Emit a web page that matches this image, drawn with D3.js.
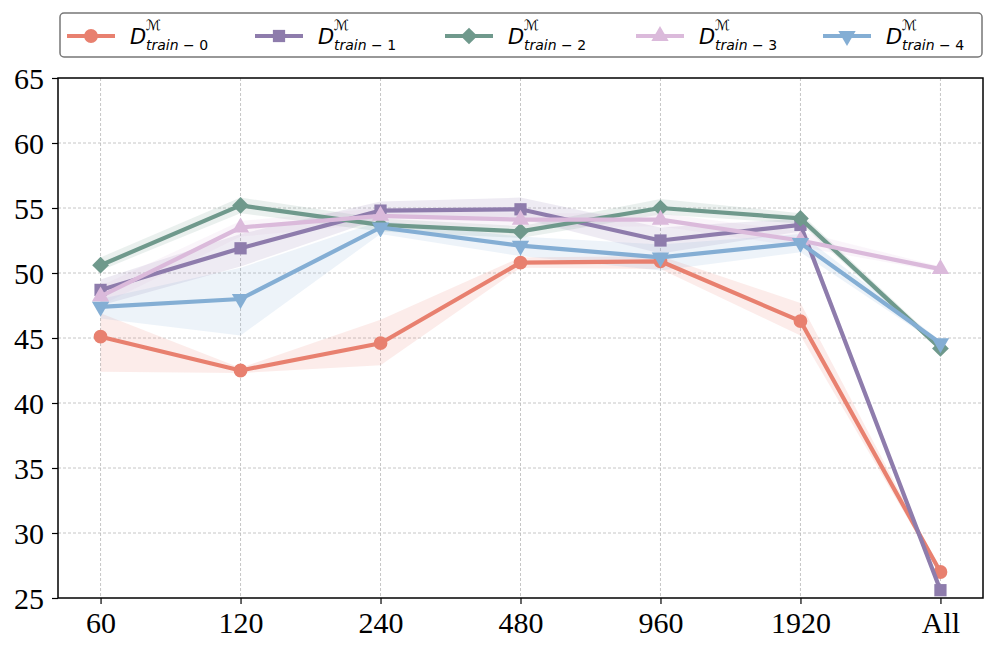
<!DOCTYPE html>
<html>
<head>
<meta charset="utf-8">
<script src="https://cdn.jsdelivr.net/npm/d3@7"></script>
<style>
  body { margin: 0; background: #fff; }
  .tick text { font-family: "Liberation Serif", "Times New Roman", serif; }
</style>
</head>
<body>
<div id="chart"></div>
<script>
// plot size
var svgWidth = 996;
var svgHeight = 651;
var margin = { top: 78, right: 13, bottom: 53, left: 58 };
var chartWidth = svgWidth - margin.left - margin.right;
var chartHeight = svgHeight - margin.top - margin.bottom;

// data
var categories = ['60', '120', '240', '480', '960', '1920', 'All'];
var yTicks = [25, 30, 35, 40, 45, 50, 55, 60, 65];
var seriesNames = ['0', '1', '2', '3', '4'];

var train0 = [45.1, 42.5, 44.6, 50.8, 50.9, 46.3, 27.0];
var train0Lo = [42.4, 42.3, 42.9, 50.4, 50.3, 45.2, 26.8];
var train0Hi = [46.9, 42.7, 46.4, 51.2, 51.3, 47.7, 27.2];

var train1 = [48.7, 51.9, 54.8, 54.9, 52.5, 53.7, 25.6];
var train1Lo = [47.5, 50.5, 54.2, 54.2, 51.5, 53.2, 25.5];
var train1Hi = [49.5, 53.0, 55.5, 55.8, 53.5, 54.2, 25.7];

var train2 = [50.6, 55.2, 53.7, 53.2, 55.0, 54.2, 44.2];
var train2Lo = [50.2, 54.6, 53.2, 52.7, 54.5, 53.8, 44.0];
var train2Hi = [51.2, 55.8, 54.2, 53.6, 55.7, 54.6, 44.5];

var train3 = [48.2, 53.5, 54.4, 54.1, 54.1, 52.5, 50.3];
var train3Lo = [47.5, 52.8, 53.8, 53.5, 53.6, 52.0, 50.1];
var train3Hi = [49.0, 54.0, 55.0, 54.6, 54.6, 53.2, 50.5];

var train4 = [47.4, 48.0, 53.5, 52.1, 51.2, 52.3, 44.6];
var train4Lo = [46.5, 45.2, 53.0, 51.3, 50.2, 51.6, 44.4];
var train4Hi = [48.0, 50.4, 54.0, 52.8, 52.2, 53.0, 44.8];

var colors = ['#e8806f', '#8e7cac', '#6f998c', '#dbbadb', '#84aed4'];
var symbols = [d3.symbolCircle, d3.symbolSquare, d3.symbolSquare, d3.symbolTriangle, d3.symbolTriangle];
var symbolSizes = [150, 150, 140, 130, 130];
var symbolRotate = ['', '', ' rotate(45)', '', ' rotate(180)'];

var series = [
    { name: seriesNames[0], mean: train0, lo: train0Lo, hi: train0Hi },
    { name: seriesNames[1], mean: train1, lo: train1Lo, hi: train1Hi },
    { name: seriesNames[2], mean: train2, lo: train2Lo, hi: train2Hi },
    { name: seriesNames[3], mean: train3, lo: train3Lo, hi: train3Hi },
    { name: seriesNames[4], mean: train4, lo: train4Lo, hi: train4Hi }
];

var xScale = d3.scalePoint()
    .domain(categories)
    .range([0, chartWidth])
    .padding(0.304);

var yScale = d3.scaleLinear()
    .domain([25, 65])
    .range([chartHeight, 0]);

var svg = d3.select('#chart').append('svg')
    .attr('width', svgWidth)
    .attr('height', svgHeight);

var chartG = svg.append('g')
    .attr('transform', `translate(${margin.left}, ${margin.top})`);

// grid
chartG.append('g').selectAll('line')
    .data(yTicks.slice(1, -1))
    .enter().append('line')
    .attr('x1', 0).attr('x2', chartWidth)
    .attr('y1', d => yScale(d)).attr('y2', d => yScale(d))
    .attr('stroke', '#b8b8b8').attr('stroke-width', 0.8)
    .attr('stroke-dasharray', '3,2');

chartG.append('g').selectAll('line')
    .data(categories)
    .enter().append('line')
    .attr('x1', d => xScale(d)).attr('x2', d => xScale(d))
    .attr('y1', 0).attr('y2', chartHeight)
    .attr('stroke', '#b8b8b8').attr('stroke-width', 0.8)
    .attr('stroke-dasharray', '3,2');

// shaded bands
var area = d3.area()
    .x((d, i) => xScale(categories[i]))
    .y0(d => yScale(d[0]))
    .y1(d => yScale(d[1]));

series.forEach((s, k) => {
    chartG.append('path')
        .datum(s.lo.map((v, i) => [v, s.hi[i]]))
        .attr('d', area)
        .attr('fill', colors[k])
        .attr('fill-opacity', 0.15);
});

// lines + markers
var line = d3.line()
    .x((d, i) => xScale(categories[i]))
    .y(d => yScale(d));

series.forEach((s, k) => {
    chartG.append('path')
        .datum(s.mean)
        .attr('d', line)
        .attr('fill', 'none')
        .attr('stroke', colors[k])
        .attr('stroke-width', 4.2)
        .attr('stroke-linejoin', 'round');

    chartG.selectAll('.m' + k)
        .data(s.mean)
        .enter().append('path')
        .attr('class', 'm' + k)
        .attr('transform', (d, i) => `translate(${xScale(categories[i])}, ${yScale(d)})` + symbolRotate[k])
        .attr('d', d3.symbol().type(symbols[k]).size(symbolSizes[k]))
        .attr('fill', colors[k]);
});

// axes
var yAxis = d3.axisLeft(yScale).tickValues(yTicks).tickSize(6).tickPadding(8);
var xAxis = d3.axisBottom(xScale).tickSize(6).tickPadding(6);

var yAxisG = chartG.append('g').call(yAxis);
var xAxisG = chartG.append('g')
    .attr('transform', `translate(0, ${chartHeight})`)
    .call(xAxis);

[yAxisG, xAxisG].forEach(g => {
    g.select('.domain').remove();
    g.selectAll('.tick line').attr('stroke', '#000').attr('stroke-width', 1.2);
    g.selectAll('.tick text').attr('font-size', 30).attr('fill', '#000');
});
yAxisG.selectAll('.tick text').attr('dy', '0.34em');
xAxisG.selectAll('.tick text').attr('dy', '0.78em');

// frame
chartG.append('rect')
    .attr('width', chartWidth)
    .attr('height', chartHeight)
    .attr('fill', 'none')
    .attr('stroke', '#000')
    .attr('stroke-width', 1.5);

// legend
var legendG = svg.append('g');
legendG.append('rect')
    .attr('x', 60).attr('y', 13)
    .attr('width', 922).attr('height', 44)
    .attr('rx', 4)
    .attr('fill', '#fff')
    .attr('stroke', '#777')
    .attr('stroke-width', 1.5);

var legendX = [67, 255, 445, 636, 823];
series.forEach((s, k) => {
    var g = legendG.append('g').attr('transform', `translate(${legendX[k]}, 36)`);
    g.append('line')
        .attr('x1', 0).attr('x2', 48)
        .attr('stroke', colors[k]).attr('stroke-width', 4.2);
    g.append('path')
        .attr('transform', `translate(24, 0)` + symbolRotate[k])
        .attr('d', d3.symbol().type(symbols[k]).size(symbolSizes[k]))
        .attr('fill', colors[k]);
    var t = g.append('text')
        .attr('x', 63).attr('y', 8)
        .attr('font-family', 'DejaVu Sans')
        .attr('fill', '#000');
    t.append('tspan').attr('font-size', 21).attr('font-style', 'italic').text('D');
    var dx = 63 + 16;
    g.append('text')
        .attr('x', dx).attr('y', -6)
        .attr('font-family', 'DejaVu Sans')
        .attr('font-size', 14)
        .attr('font-style', 'italic')
        .text('\u2133');
    var sub = g.append('text')
        .attr('x', dx).attr('y', 14)
        .attr('font-family', 'DejaVu Sans')
        .attr('font-size', 14);
    sub.append('tspan').attr('font-style', 'italic').text('train');
    sub.append('tspan').text(' \u2212 ' + s.name);
});
</script>
</body>
</html>
